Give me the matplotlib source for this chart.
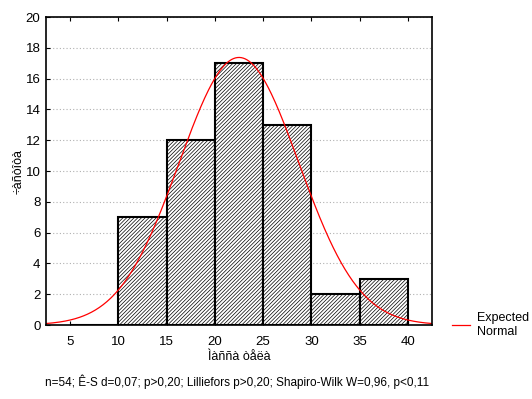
import numpy as np
import matplotlib
matplotlib.use("Agg")
import matplotlib.pyplot as plt

plt.rcParams['font.family'] = ['Liberation Sans', 'DejaVu Sans']
plt.rcParams['hatch.linewidth'] = 0.5

# Histogram data (bin edges and counts)
bin_edges = [5, 10, 15, 20, 25, 30, 35, 40]
counts = [0, 7, 12, 17, 13, 2, 3]
n_obs = 54

# Expected normal parameters
norm_mean = 22.5
norm_sd = 6.2

x_ticks = [5, 10, 15, 20, 25, 30, 35, 40]
y_ticks = [0, 2, 4, 6, 8, 10, 12, 14, 16, 18, 20]

x_label = "Ìàññà òåëà"
y_label = "÷àñòîòà"
stats_text = "n=54; Ê-S d=0,07; p>0,20; Lilliefors p>0,20; Shapiro-Wilk W=0,96, p<0,11"

fig = plt.figure(figsize=(5.32, 3.99), dpi=100)
ax = fig.add_axes([46 / 532, 1 - 325 / 399, 386 / 532, 308 / 399])

ax.set_axisbelow(True)
ax.grid(axis='y', linestyle=(0, (1, 2)), color='#b0b0b0', linewidth=0.8)

widths = np.diff(bin_edges)
ax.bar(bin_edges[:-1], counts, width=widths, align='edge',
       facecolor='white', edgecolor='black', hatch='/////////', linewidth=1.5)

xs = np.linspace(2.5, 42.5, 400)
bin_w = widths[0]
ys = n_obs * bin_w / (norm_sd * np.sqrt(2 * np.pi)) * np.exp(-0.5 * ((xs - norm_mean) / norm_sd) ** 2)
ax.plot(xs, ys, color='red', linewidth=0.9, label='Expected\nNormal')

ax.set_xlim(2.5, 42.5)
ax.set_ylim(0, 20)
ax.set_xticks(x_ticks)
ax.set_yticks(y_ticks)
ax.tick_params(direction='in', length=3, labelsize=9.5, top=True, right=False)
ax.tick_params(axis='x', pad=8)
ax.tick_params(axis='y', pad=4)
for s in ax.spines.values():
    s.set_linewidth(1.2)

ax.set_xlabel(x_label, fontsize=9, labelpad=2)
ax.set_ylabel(y_label, fontsize=9, labelpad=1)
fig.text(0.445, 0.032, stats_text, ha='center', fontsize=8.5)

ax.legend(loc='center left', bbox_to_anchor=(1.022, 0.0), frameon=False,
          fontsize=9, handlelength=1.5, handletextpad=0.5)

fig.savefig("out.png", dpi=100)
